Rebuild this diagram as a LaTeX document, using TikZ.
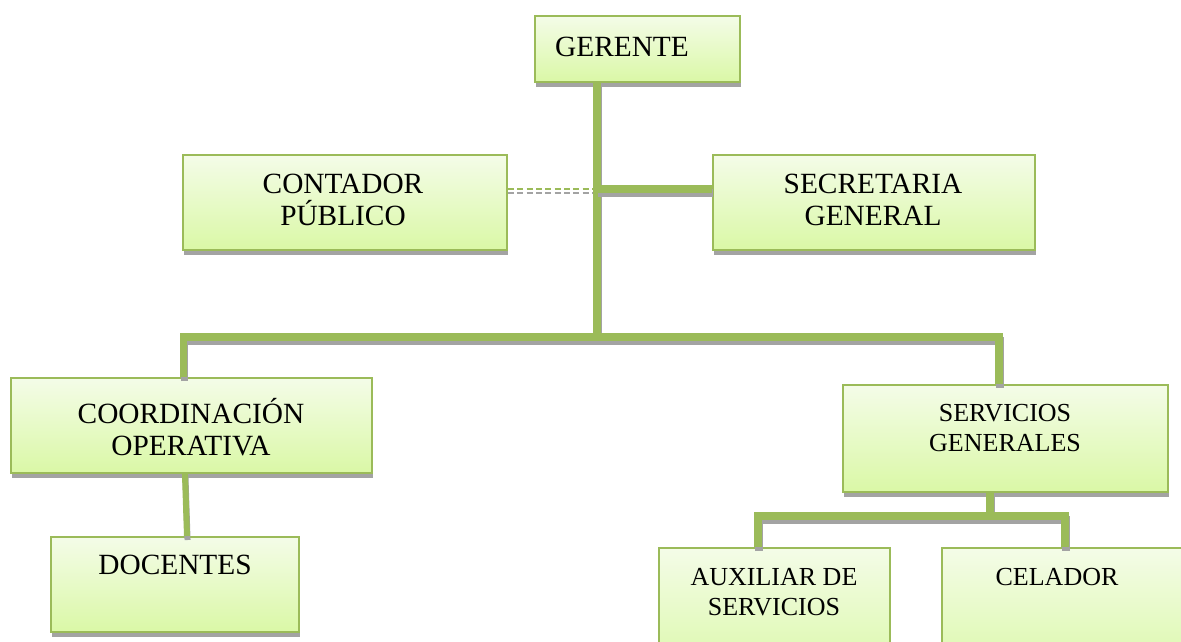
\documentclass[tikz,border=0pt]{standalone}
\usepackage{fontspec}
\setmainfont{Liberation Serif}
\usetikzlibrary{shadows,calc}
\definecolor{olgreen}{HTML}{9BBB59}
\definecolor{shgray}{HTML}{A3A3A3}
\definecolor{topc}{HTML}{F4FCE8}
\definecolor{botc}{HTML}{DAF8A6}
\tikzset{
  box/.style={rectangle, draw=olgreen, line width=1.5pt, inner sep=0pt,
    top color=topc, bottom color=botc,
    drop shadow={shadow xshift=0.4pt, shadow yshift=-3.5pt, fill=shgray, opacity=1}},
  lbl/.style={align=center, inner sep=0pt, font=\fontsize{22}{23.5}\selectfont},
  lbls/.style={align=center, inner sep=0pt, font=\fontsize{19.5}{22}\selectfont},
  conn/.style={draw=olgreen, line width=5.5pt,
    preaction={draw=shgray, line width=5.5pt, transform canvas={xshift=0.75pt, yshift=-3pt}}},
  connthin/.style={draw=olgreen, line width=4.5pt,
    preaction={draw=shgray, line width=4.5pt, transform canvas={xshift=0.4pt, yshift=-3pt}}},
  dashg/.style={draw=olgreen, line width=1.5pt, dash pattern=on 4.5pt off 2.5pt},
  dashgr/.style={draw=shgray, line width=1.5pt, dash pattern=on 4.5pt off 2.5pt},
}
\begin{document}
\begin{tikzpicture}[x=0.75pt, y=-0.75pt]
\useasboundingbox (0,0) rectangle (1181,642);
\clip (0,0) rectangle (1181,642);

% boxes
\node[box, minimum width=153.75pt, minimum height=49.5pt] (ger) at (637.5,49) {};
\node[box, minimum width=243pt, minimum height=71.25pt] (cont) at (345,202.5) {};
\node[box, minimum width=241.5pt, minimum height=71.25pt] (sec) at (874,202.5) {};
\node[box, minimum width=270.75pt, minimum height=71.25pt] (coo) at (191.5,425.5) {};
\node[box, minimum width=243.75pt, minimum height=80.25pt] (ser) at (1005.5,438.5) {};
\node[box, minimum width=186pt, minimum height=71.25pt] (doc) at (175,584.5) {};
\node[box, minimum width=173.25pt, minimum height=99pt] (aux) at (774.5,614) {};
\node[box, minimum width=193.5pt, minimum height=99pt] (cel) at (1071,614) {};

% texts
\node[lbl] (tger) at (622,47) {GERENTE};
\node[lbl] (tcont) at (343,200) {CONTADOR\\PÚBLICO};
\node[lbl] (tsec) at (873,200) {SECRETARIA\\GENERAL};
\node[lbl] (tcoo) at (191,427) {COORDINACIÓN\\OPERATIVA};
\node[lbls] (tser) at (1005,428) {SERVICIOS\\GENERALES};
\node[lbl] (tdoc) at (175,565) {DOCENTES};
\node[lbls] (taux) at (774,592) {AUXILIAR DE\\SERVICIOS};
\node[lbls] (tcel) at (1057,577) {CELADOR};

% junctions
\coordinate (jt) at (597,189);
\coordinate (jm) at (597,337);
\coordinate (js) at (990,516);

% connectors
\draw[dashgr] ([yshift=-3pt]cont.east |- jt) -- ([yshift=-3pt]jt);
\draw[dashg] (cont.east |- jt) -- (jt);
\draw[conn] (jt |- ger.south) -- (jm);
\draw[conn] (jt) -- (jt -| sec.west);
\draw[conn] ([xshift=-6pt]coo.north) |- (jm) -| ([xshift=-4.9pt]ser.north);
\draw[connthin] ([xshift=-4.9pt]coo.south) -- ([xshift=9pt]doc.north);
\draw[conn] (js |- ser.south) -- (js);
\draw[conn] ([xshift=-12.4pt]aux.north) |- (js) -| ([xshift=-4.5pt]cel.north);
\end{tikzpicture}
\end{document}
